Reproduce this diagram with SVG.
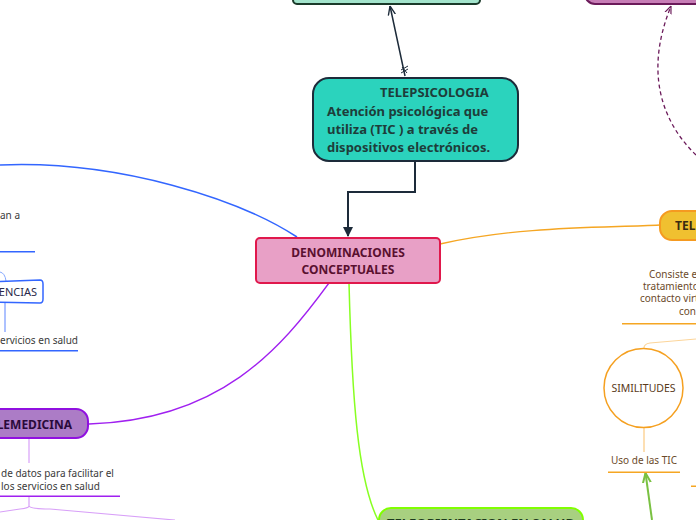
<svg xmlns="http://www.w3.org/2000/svg" width="696" height="520" viewBox="0 0 696 520">
<style>
text{font-family:"Noto Sans","DejaVu Sans",sans-serif}
.b{font-weight:bold}
.lbl{font-size:10px;fill:#3a3a3a}
.brn{font-size:10px;fill:#6b4a2a}
</style>
<defs>
<marker id="ah" viewBox="0 0 10 10" refX="9" refY="5" markerWidth="10" markerHeight="10" markerUnits="userSpaceOnUse" orient="auto"><path d="M0,0 L10,5 L0,10 z" fill="#1d2b3a"/></marker>
<marker id="ao" viewBox="0 0 10 10" refX="10" refY="5" markerWidth="9" markerHeight="9" markerUnits="userSpaceOnUse" orient="auto"><path d="M0,1 L10,5 L0,9" fill="none" stroke="#1d2b3a" stroke-width="1.5"/></marker>
<marker id="ag" viewBox="0 0 10 10" refX="10" refY="5" markerWidth="10" markerHeight="10" markerUnits="userSpaceOnUse" orient="auto"><path d="M0,1 L10,5 L0,9" fill="none" stroke="#7ac142" stroke-width="2"/></marker>
<marker id="ap" viewBox="0 0 10 10" refX="10" refY="5" markerWidth="8" markerHeight="8" markerUnits="userSpaceOnUse" orient="auto"><path d="M0,1 L10,5 L0,9" fill="none" stroke="#6b1a5a" stroke-width="1.5"/></marker>
</defs>

<g id="connectors" fill="none">
<path d="M405,76 L390,6" stroke="#1d2b3a" stroke-width="1.5" marker-end="url(#ao)"/>
<path d="M401,70 L408,66 M401,73 L408,69 M402,67 L407,73" stroke="#1d2b3a" stroke-width="1"/>
<path d="M415,161 L415,192 L348,192 L348,236" stroke="#1d2b3a" stroke-width="2" marker-end="url(#ah)"/>
<path d="M696,155 C660,120 645,70 671,6" stroke="#6b1a5a" stroke-width="1.3" stroke-dasharray="4,3" marker-end="url(#ap)"/>
<path d="M297,237 C240,200 120,160 0,165" stroke="#3366ff" stroke-width="1.5"/>
<path d="M329,283 C280,350 220,420 89,424" stroke="#a020f0" stroke-width="1.3"/>
<path d="M440,244 C520,226 600,228 660,225" stroke="#f5a623" stroke-width="1.3"/>
<path d="M349,283 C352,400 358,480 378,520" stroke="#88ff22" stroke-width="1.5"/>
<path d="M0,272 Q5,273 6,281" stroke="#88aaff" stroke-width="1"/>
<path d="M5,303 L5,332" stroke="#5b83ff" stroke-width="1"/>
<path d="M29,438 L29,463" stroke="#d8a0f8" stroke-width="1.2"/>
<path d="M29,496 L29,506 Q29,508 20,509 L0,512 M29,506 Q31,509 50,509 L175,520" stroke="#d8a0f8" stroke-width="1.2"/>
<path d="M696,339 L650,343 Q644,344 644,348" stroke="#fcd59a" stroke-width="1.2"/>
<path d="M644,427 L644,452" stroke="#fcd59a" stroke-width="1.5"/>
<path d="M652,520 L645.5,473" stroke="#7ac142" stroke-width="2" marker-end="url(#ag)"/>
</g>

<g id="node-top">
<rect x="293" y="-30" width="187" height="34" rx="4" fill="#a3e4cc" stroke="#1b3a2a" stroke-width="2"/>
</g>

<g id="node-topright">
<rect x="585" y="-30" width="130" height="34" rx="10" fill="#c77db6" stroke="#6b1a5a" stroke-width="2"/>
</g>

<g id="node-telepsicologia">
<rect x="313" y="78" width="205" height="83" rx="16" fill="#2bd3bd" stroke="#1d2b3a" stroke-width="2"/>
<text class="b" font-size="13" fill="#1e3d3a" x="380" y="97">TELEPSICOLOGIA</text>
<text class="b" font-size="13" fill="#1e3d3a" x="327" y="116">Atención psicológica que</text>
<text class="b" font-size="13" fill="#1e3d3a" x="327" y="134">utiliza (TIC ) a través de</text>
<text class="b" font-size="13" fill="#1e3d3a" x="327" y="152">dispositivos electrónicos.</text>
</g>

<g id="node-denominaciones">
<rect x="256" y="238" width="184" height="45" rx="4" fill="#e8a0c6" stroke="#e0184c" stroke-width="2"/>
<text class="b" font-size="12" fill="#5a1030" x="348" y="257" text-anchor="middle">DENOMINACIONES</text>
<text class="b" font-size="12" fill="#5a1030" x="348" y="274" text-anchor="middle">CONCEPTUALES</text>
</g>

<g id="node-left-text">
<text class="lbl" x="0" y="219">an a</text>
<rect x="0" y="251" width="35" height="1.5" fill="#3366ff"/>
</g>

<g id="node-encias">
<path d="M-10,282 L40,280 Q43,280 43,284 L43,299 Q43,303 40,303 L-10,302 z" fill="#ffffff" stroke="#3366ff" stroke-width="1.5"/>
<text font-size="11" fill="#2a2a4a" x="37" y="296" text-anchor="end">ENCIAS</text>
</g>

<g id="node-servicios">
<text class="lbl" x="0" y="344">ervicios en salud</text>
<rect x="0" y="350" width="78" height="1.5" fill="#3366ff"/>
</g>

<g id="node-telemedicina">
<rect x="-30" y="409" width="118" height="29" rx="12" fill="#ac7cc6" stroke="#9010e0" stroke-width="2"/>
<text class="b" font-size="12" fill="#2a0a3a" x="72" y="429" text-anchor="end">LEMEDICINA</text>
</g>

<g id="node-datos">
<text class="lbl" x="1" y="477">de datos para facilitar el</text>
<text class="lbl" x="1" y="490">los servicios en salud</text>
<rect x="0" y="495.5" width="120" height="1.5" fill="#a020f0"/>
</g>

<g id="node-tel">
<rect x="660" y="211" width="60" height="29" rx="12" fill="#f0c030" stroke="#f59a20" stroke-width="2"/>
<text class="b" font-size="12" fill="#3a2a10" x="675" y="230">TEL</text>
</g>

<g id="node-consiste">
<text class="brn" x="649" y="278">Consiste e</text>
<text class="brn" x="643" y="290">tratamiento</text>
<text class="brn" x="640" y="302">contacto virt</text>
<text class="brn" x="679" y="315">con</text>
<rect x="622" y="323" width="74" height="1.5" fill="#f5a623"/>
</g>

<g id="node-similitudes">
<circle cx="643.5" cy="388" r="39.5" fill="#ffffff" stroke="#f5a020" stroke-width="1.5"/>
<text font-size="10.5" fill="#5a3a1a" x="643.5" y="392" text-anchor="middle">SIMILITUDES</text>
</g>

<g id="node-uso">
<text class="brn" x="644" y="464" text-anchor="middle">Uso de las TIC</text>
<rect x="608" y="471.5" width="72" height="1.5" fill="#f5a623"/>
<rect x="691" y="485.5" width="5" height="1.5" fill="#f5a623"/>
</g>

<g id="node-teleorientacion">
<rect x="379" y="508" width="204" height="40" rx="12" fill="#a8d080" stroke="#80ff00" stroke-width="2"/>
<text class="b" font-size="13" fill="#1e3a1e" x="481" y="528" text-anchor="middle">TELEORIENTACION EN SALUD</text>
</g>
</svg>
